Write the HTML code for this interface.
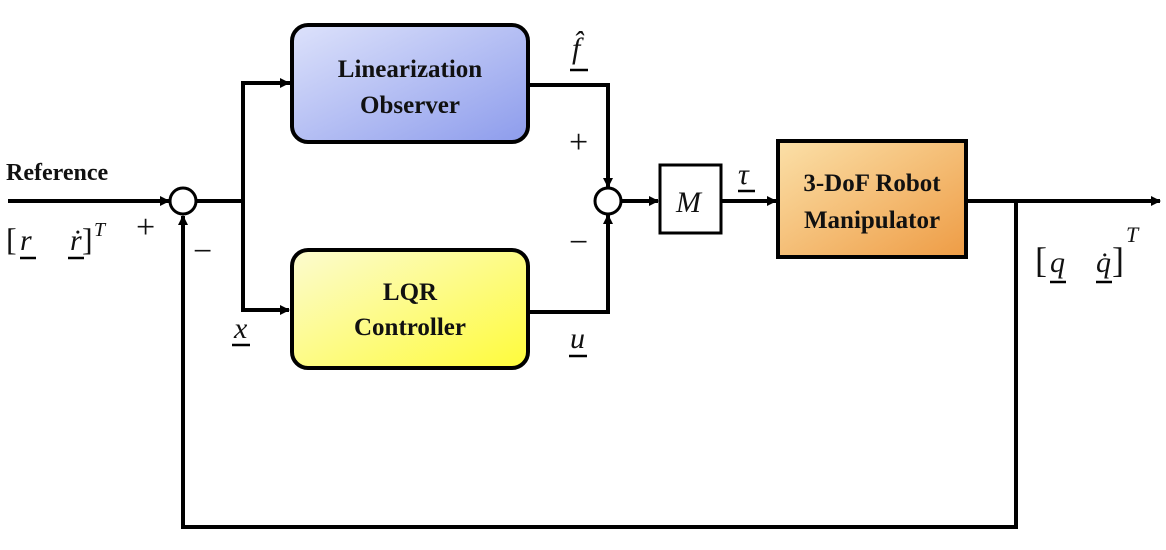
<!DOCTYPE html>
<html><head><meta charset="utf-8"><style>
html,body{margin:0;padding:0;background:#fff;}
svg{display:block;}
.b{font-family:"Liberation Serif",serif;font-weight:bold;font-size:25px;fill:#111;}
.m{font-family:"Liberation Serif",serif;font-style:italic;font-size:30px;fill:#111;}
.s{font-family:"Liberation Serif",serif;font-size:34px;fill:#111;}
</style></head><body>
<svg width="1166" height="550" viewBox="0 0 1166 550" xmlns="http://www.w3.org/2000/svg">
<defs>
<linearGradient id="gb" x1="0" y1="0" x2="1" y2="1"><stop offset="0" stop-color="#dde2fb"/><stop offset="1" stop-color="#8d9cec"/></linearGradient>
<linearGradient id="gy" x1="0" y1="0" x2="1" y2="1"><stop offset="0" stop-color="#fcfbd0"/><stop offset="1" stop-color="#fefb3a"/></linearGradient>
<linearGradient id="go" x1="0" y1="0" x2="1" y2="1"><stop offset="0" stop-color="#fbe0a8"/><stop offset="1" stop-color="#ee9c45"/></linearGradient>
<marker id="a" markerWidth="10" markerHeight="10" refX="9" refY="5" orient="auto" markerUnits="userSpaceOnUse"><path d="M0,0 L10,5 L0,10 z" fill="#000"/></marker>
</defs>
<g stroke="#000" stroke-width="4" fill="none">
<line x1="8" y1="201" x2="169" y2="201" marker-end="url(#a)"/>
<line x1="196" y1="201" x2="243" y2="201"/>
<polyline points="292,83 243,83 243,310 289,310"/>
<line x1="243" y1="83" x2="289" y2="83" marker-end="url(#a)"/>
<line x1="243" y1="310" x2="289" y2="310" marker-end="url(#a)"/>
<polyline points="528,85 608,85 608,187" marker-end="url(#a)"/>
<polyline points="528,312 608,312 608,215" marker-end="url(#a)"/>
<line x1="621" y1="201" x2="658" y2="201" marker-end="url(#a)"/>
<line x1="721" y1="201" x2="776" y2="201" marker-end="url(#a)"/>
<line x1="966" y1="201" x2="1160" y2="201" marker-end="url(#a)"/>
<polyline points="1016,201 1016,527 183,527 183,216" marker-end="url(#a)"/>
</g>
<g stroke="#000" stroke-width="3">
<circle cx="183" cy="201" r="13" fill="#fff"/>
<circle cx="608" cy="201" r="13" fill="#fff"/>
<rect x="660" y="165" width="61" height="68" fill="#fff"/>
</g>
<g stroke="#000" stroke-width="4">
<rect x="292" y="25" width="236" height="117" rx="16" fill="url(#gb)"/>
<rect x="292" y="250" width="236" height="118" rx="16" fill="url(#gy)"/>
<rect x="778" y="141" width="188" height="116" fill="url(#go)"/>
</g>
<text class="b" x="410" y="77" text-anchor="middle">Linearization</text>
<text class="b" x="410" y="113" text-anchor="middle">Observer</text>
<text class="b" x="410" y="300" text-anchor="middle">LQR</text>
<text class="b" x="410" y="335" text-anchor="middle">Controller</text>
<text class="b" x="872" y="191" text-anchor="middle">3-DoF Robot</text>
<text class="b" x="872" y="228" text-anchor="middle">Manipulator</text>
<text class="b" x="6" y="180" style="font-size:24px">Reference</text>
<text class="m" x="676" y="212">M</text>
<text class="s" x="6" y="250" style="font-size:32px">[</text>
<text class="m" x="20" y="250">r</text>
<text class="m" x="70" y="250">ṙ</text>
<text class="s" x="82" y="250" style="font-size:32px">]</text>
<text class="m" x="94" y="236" style="font-size:20px">T</text>
<text class="s" x="136" y="238">+</text>
<text class="s" x="193" y="262">−</text>
<text class="m" x="234" y="338">x</text>
<text class="m" x="572" y="58">f̂</text>
<text class="s" x="569" y="153">+</text>
<text class="s" x="569" y="253">−</text>
<text class="m" x="570" y="348">u</text>
<text class="m" x="738" y="184">τ</text>
<text class="s" x="1035" y="272" style="font-size:36px">[</text>
<text class="m" x="1050" y="272">q</text>
<text class="m" x="1096" y="272">q̇</text>
<text class="s" x="1112" y="272" style="font-size:36px">]</text>
<text class="m" x="1126" y="242" style="font-size:22px">T</text>
<g stroke="#000" stroke-width="2.5">
<line x1="20" y1="258" x2="36" y2="258"/>
<line x1="68" y1="258" x2="84" y2="258"/>
<line x1="232" y1="345" x2="250" y2="345"/>
<line x1="570" y1="70" x2="588" y2="70"/>
<line x1="569" y1="356" x2="587" y2="356"/>
<line x1="738" y1="191" x2="755" y2="191"/>
<line x1="1050" y1="282" x2="1066" y2="282"/>
<line x1="1096" y1="282" x2="1112" y2="282"/>
</g>
</svg>
</body></html>
